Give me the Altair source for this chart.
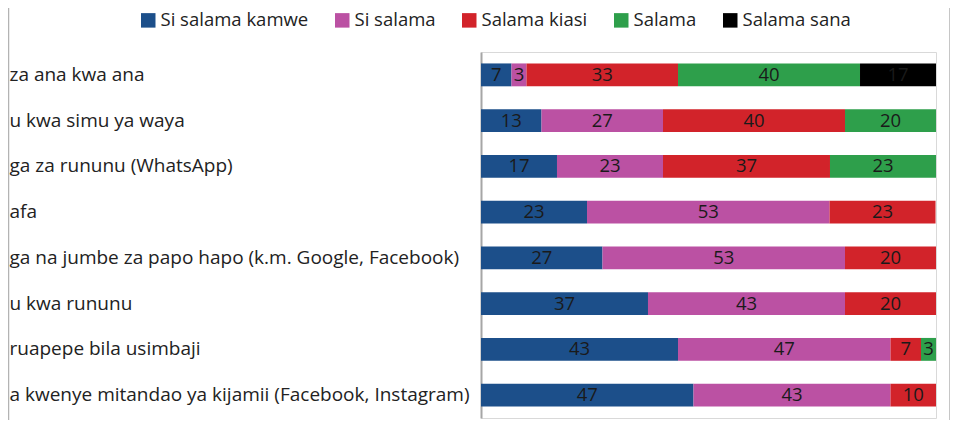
import altair as alt
import pandas as pd

categories = [
    "za ana kwa ana",
    "u kwa simu ya waya",
    "ga za rununu (WhatsApp)",
    "afa",
    "ga na jumbe za papo hapo (k.m. Google, Facebook)",
    "u kwa rununu",
    "ruapepe bila usimbaji",
    "a kwenye mitandao ya kijamii (Facebook, Instagram)",
]
series = ["Si salama kamwe", "Si salama", "Salama kiasi", "Salama", "Salama sana"]
colors = ["#1c4f8a", "#bb51a3", "#d2232a", "#2e9f4b", "#000000"]

si_salama_kamwe = [6.7, 13.3, 16.7, 23.3, 26.7, 36.7, 43.3, 46.7]
si_salama = [3.3, 26.7, 23.3, 53.3, 53.3, 43.3, 46.7, 43.3]
salama_kiasi = [33.3, 40.0, 36.7, 23.3, 20.0, 20.0, 6.7, 10.0]
salama = [40.0, 20.0, 23.3, 0, 0, 0, 3.3, 0]
salama_sana = [16.7, 0, 0, 0, 0, 0, 0, 0]

values = [si_salama_kamwe, si_salama, salama_kiasi, salama, salama_sana]
rows = []
for si, (name, vals) in enumerate(zip(series, values)):
    for ci, cat in enumerate(categories):
        if vals[ci] > 0:
            rows.append({"cat": cat, "series": name, "order": si, "value": vals[ci]})
df = pd.DataFrame(rows)

FONT = "Open Sans"
FS = 18.5

ycfg = alt.Y(
    "cat:N",
    sort=categories,
    scale=alt.Scale(paddingInner=0.5, paddingOuter=0.25),
    axis=alt.Axis(
        title=None,
        ticks=False,
        tickSize=0,
        domain=True,
        domainColor="#a6a6a6",
        domainWidth=2,
        labelAlign="left",
        labelPadding=472,
        labelLimit=480,
        labelFont=FONT,
        labelFontSize=19,
        labelColor="#222222",
        grid=False,
    ),
)

base = alt.Chart(df).transform_stack(
    stack="value",
    groupby=["cat"],
    sort=[alt.SortField("order")],
    as_=["x0", "x1"],
).transform_calculate(mid="(datum.x0 + datum.x1) / 2")

bars = base.mark_bar(strokeWidth=0).encode(
    y=ycfg,
    x=alt.X("x0:Q", scale=alt.Scale(domain=[0, 100], nice=False, zero=True), axis=None),
    x2="x1:Q",
    color=alt.Color(
        "series:N",
        sort=series,
        scale=alt.Scale(domain=series, range=colors),
        legend=alt.Legend(
            title=None,
            orient="none",
            legendX=-342,
            legendY=-41,
            direction="horizontal",
            columns=5,
            symbolType="square",
            symbolSize=210,
            symbolStrokeWidth=0,
            labelFont=FONT,
            labelFontSize=FS,
            labelColor="#222222",
            labelOffset=3,
            columnPadding=24,
        ),
    ),
)

texts = base.mark_text(font=FONT, fontSize=FS, color="#1a1a1a").encode(
    y=alt.Y("cat:N", sort=categories),
    x=alt.X("mid:Q"),
    text=alt.Text("value:Q", format=".0f"),
)

frame = pd.DataFrame({"k": [0]})
left_line = alt.Chart(frame).mark_rule(color="#b3b3b3", strokeWidth=1.5).encode(
    x=alt.value(-472.5), y=alt.value(-44), y2=alt.value(368)
)
right_line = alt.Chart(frame).mark_rule(color="#b3b3b3", strokeWidth=1.5).encode(
    x=alt.value(469), y=alt.value(-44), y2=alt.value(368)
)

chart = alt.layer(bars, texts, left_line, right_line).properties(
    width=455,
    height=366,
    autosize=alt.AutoSizeParams(type="none"),
    padding={"left": 473, "top": 44, "right": 14, "bottom": 2},
    background="white",
).configure_view(stroke="#d9d9d9", strokeWidth=1)

chart.save("out.html", embed_options={"renderer": "svg", "actions": False})
